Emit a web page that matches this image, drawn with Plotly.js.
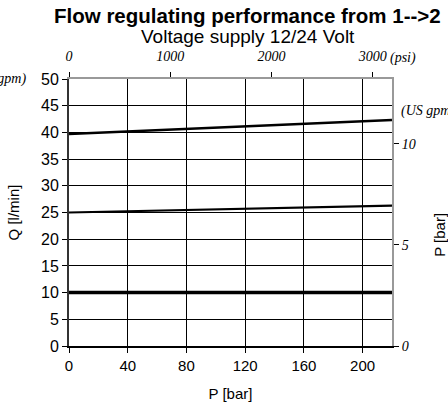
<!DOCTYPE html>
<html>
<head>
<meta charset="utf-8">
<script src="https://cdn.plot.ly/plotly-3.0.1.min.js"></script>
<style>html,body{margin:0;padding:0;background:#fff;}#chart{width:448px;height:410px;}</style>
</head>
<body>
<div id="chart"></div>
<script>
// Pressure [bar] endpoints
const pressureBar = [0, 220];
// Flow curves [l/min]
const flowHigh = [39.7, 42.3];
const flowMid = [25.0, 26.3];
const flowLow = [10.0, 10.0];
// Axis ticks
const barTicks = [0, 40, 80, 120, 160, 200];
const flowTicks = [0, 5, 10, 15, 20, 25, 30, 35, 40, 45, 50];
const psiTicks = [0, 1000, 2000, 3000];
const psiLabels = ['0', '1000', '2000', '3000'];
const gpmTicks = [0, 5, 10];
const BAR_TO_PSI = 14.5038;
const GPM_TO_LMIN = 3.78541;

const serifFam = '"Liberation Serif", "Times New Roman", serif';
const serif = {family: serifFam, size: 14, color: '#000', style: 'italic'};
const sans = '"Liberation Sans", Arial, sans-serif';

const traces = [
  {x: pressureBar, y: flowHigh, mode: 'lines', line: {color: '#000', width: 2.5}, hoverinfo: 'skip'},
  {x: pressureBar, y: flowMid, mode: 'lines', line: {color: '#000', width: 2.2}, hoverinfo: 'skip'},
  {x: pressureBar, y: flowLow, mode: 'lines', line: {color: '#000', width: 3.5}, hoverinfo: 'skip'}
];

const layout = {
  width: 448, height: 410,
  margin: {l: 69, r: 56, t: 79, b: 63.5},
  paper_bgcolor: '#fff', plot_bgcolor: '#fff',
  showlegend: false,
  font: {family: sans, size: 15, color: '#000'},
  xaxis: {
    range: [0, 220], tickvals: barTicks, ticks: 'outside', ticklen: 5, tickcolor: '#000',
    showgrid: true, gridcolor: '#000', gridwidth: 1,
    showline: true, linecolor: '#000', linewidth: 1.5, zeroline: false,
    tickfont: {family: sans, size: 15, color: '#000'},
    title: {text: 'P [bar]', font: {family: sans, size: 15}, standoff: 16}
  },
  yaxis: {
    range: [0, 50], tickvals: flowTicks, ticks: 'outside', ticklen: 5, tickcolor: '#000',
    showgrid: true, gridcolor: '#000', gridwidth: 1,
    showline: true, linecolor: '#333', linewidth: 2, zeroline: false,
    tickfont: {family: sans, size: 16, color: '#000'},
    title: {text: 'Q [l/min]', font: {family: sans, size: 15}, standoff: 18}
  },
  xaxis2: {
    overlaying: 'x', side: 'top', range: [0, 220 * BAR_TO_PSI],
    tickvals: psiTicks, ticktext: psiLabels, ticks: 'outside', ticklen: 5, tickcolor: '#000',
    ticklabelstandoff: 5,
    showgrid: false, showline: true, linecolor: '#999', linewidth: 2, zeroline: false,
    tickfont: serif
  },
  yaxis2: {
    overlaying: 'y', side: 'right', range: [0, 50 / GPM_TO_LMIN],
    tickvals: gpmTicks, ticks: 'outside', ticklen: 5, tickcolor: '#000',
    showgrid: false, showline: true, linecolor: '#999', linewidth: 2, zeroline: false,
    tickfont: serif
  },
  annotations: [
    {text: '<b>Flow regulating performance from 1-->2</b>', xref: 'paper', yref: 'paper',
     x: 0.554, y: 1, yshift: 64, xanchor: 'center', yanchor: 'middle', showarrow: false,
     font: {family: sans, size: 20.5, color: '#000'}},
    {text: 'Voltage supply 12/24 Volt', xref: 'paper', yref: 'paper',
     x: 0.554, y: 1, yshift: 43, xanchor: 'center', yanchor: 'middle', showarrow: false,
     font: {family: sans, size: 19, color: '#000'}},
    {text: '<i>(psi)</i>', xref: 'paper', yref: 'paper', x: 1, y: 1, xshift: -4, yshift: 21,
     xanchor: 'left', yanchor: 'middle', showarrow: false, font: serif},
    {text: '<i>(US gpm)</i>', xref: 'paper', yref: 'paper', x: 0, y: 1, xshift: -41,
     xanchor: 'right', yanchor: 'middle', showarrow: false, font: serif},
    {text: '<i>(US gpm)</i>', xref: 'paper', yref: 'paper', x: 1, y: 0.88, xshift: 7,
     xanchor: 'left', yanchor: 'middle', showarrow: false, font: serif},
    {text: 'P [bar]', xref: 'paper', yref: 'paper', x: 1.149, y: 0.417, textangle: -90,
     xanchor: 'center', yanchor: 'middle', showarrow: false, font: {family: sans, size: 15, color: '#000'}}
  ]
};

// invisible trace to activate the secondary axes
traces.push({x: [0], y: [0], xaxis: 'x2', yaxis: 'y2', mode: 'markers', marker: {opacity: 0}, hoverinfo: 'skip'});

Plotly.newPlot('chart', traces, layout, {staticPlot: true, displayModeBar: false});
</script>
</body>
</html>
